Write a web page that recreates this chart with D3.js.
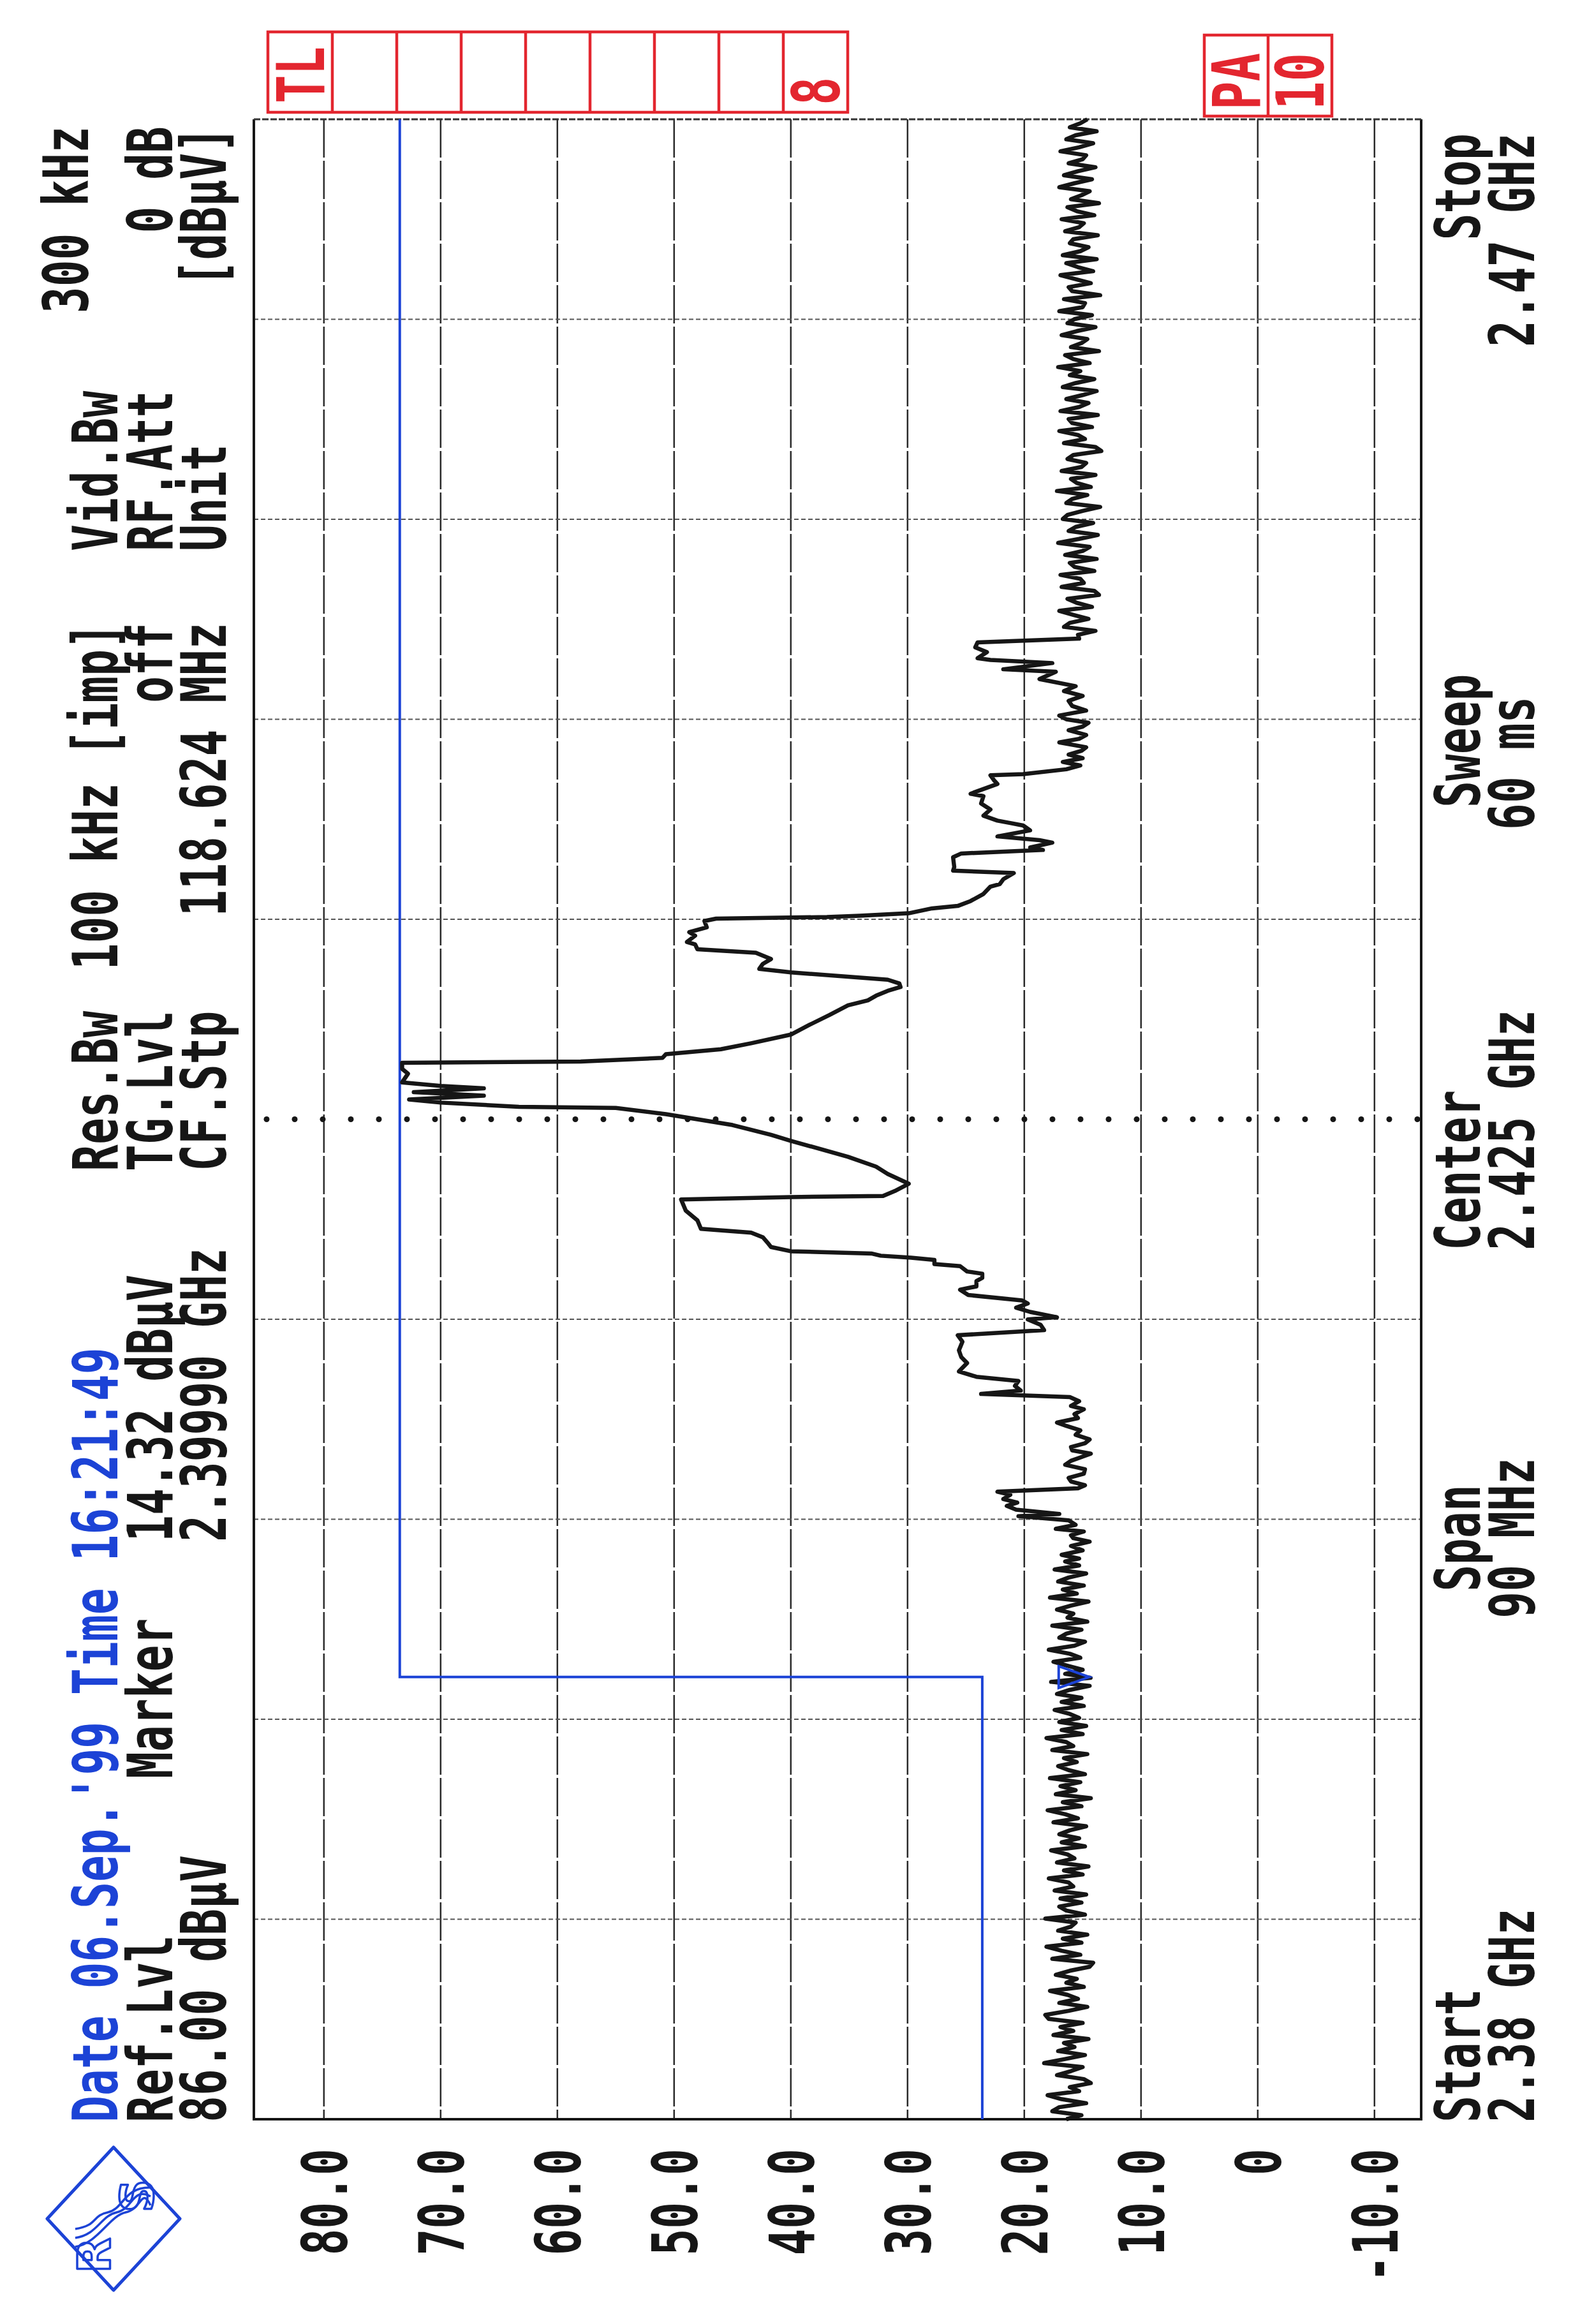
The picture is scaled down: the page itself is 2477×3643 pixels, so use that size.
<!DOCTYPE html>
<html><head><meta charset="utf-8">
<script src="https://cdn.jsdelivr.net/npm/d3@7"></script>
<style>body{margin:0;background:#fff}</style>
</head><body><svg id="c" width="2477" height="3643" xmlns="http://www.w3.org/2000/svg"></svg>
<script>
// ---------- data ----------
const START_MHZ = 2380, STOP_MHZ = 2470;
const REF_LEVEL = 86, BOTTOM_LEVEL = -14;
const levelTicks = [80,70,60,50,40,30,20,10,0,-10];
const levelTickLabels = ["80.0","70.0","60.0","50.0","40.0","30.0","20.0","10.0","0","-10.0"];
const freqGridMHz = [2389,2398,2407,2416,2434,2443,2452,2461];
const centerMHz = 2425;

// noise floor below the signal, evenly spread from 2380.0 to 2405.1 MHz
const noiseLowRange = [2380.0, 2405.1];
const noiseLowLevels = [
16.4,15.1,17.6,17.0,14.7,16.8,18.0,15.3,16.1,14.3,14.9,17.2,16.0,15.0,18.3,16.5,14.8,17.1,15.7,16.6,
14.5,17.5,15.8,16.9,15.0,17.9,18.2,16.2,14.6,17.0,15.4,16.3,17.8,14.9,16.4,15.5,17.3,16.1,14.4,14.1,
17.6,15.2,16.8,18.1,15.1,16.7,14.6,17.1,16.0,15.6,18.2,14.8,16.4,17.0,15.1,16.9,14.7,17.4,15.8,16.2,
17.9,15.0,16.6,14.5,17.2,15.7,16.3,17.7,14.8,16.8,15.3,17.0,16.1,14.7,17.5,15.4,16.5,18.0,15.1,16.7,
14.3,17.3,15.6,16.9,15.2,17.8,14.8,16.2,17.1,15.5,16.6,14.6,17.6,15.8,16.4,18.1,15.0,16.8,14.7,17.0,
15.3,16.1,17.4,14.9,16.8,15.1,17.2,16.1,14.4,17.7,14.32,16.5,15.0,16.3,17.5,15.2,16.1,17.9,15.7,14.8,
17.0,16.4,15.1,17.6,14.6,16.3,15.8,17.2,16.0,14.5,17.8,15.5,16.7,14.9,17.1,16.2,14.7,17.4,15.3,16.5];

// signal region: [frequency MHz, level dBuV]
const signalPoints = [
[2405.23,15.3],[2405.40,16.8],[2405.60,15.0],[2405.80,16.0],[2405.99,14.4],[2406.15,15.8],[2406.28,16.0],[2406.45,14.9],[2406.57,17.3],[2406.75,15.6],[2406.95,16.2],
[2407.14,20.5],[2407.24,17.0],[2407.43,20.7],[2407.60,21.5],[2407.75,20.6],[2407.91,21.8],[2408.10,21.2],[2408.24,22.3],
[2408.39,15.4],[2408.53,14.8],[2408.70,16.0],[2408.86,16.2],[2409.05,14.9],[2409.25,14.8],[2409.45,16.5],[2409.63,16.0],[2409.80,15.1],[2409.95,14.3],[2410.10,15.9],[2410.25,16.0],[2410.42,14.8],[2410.59,14.4],[2410.80,15.6],[2411.00,15.2],[2411.20,16.4],[2411.35,17.2],[2411.55,15.4],[2411.73,15.7],[2411.95,14.9],[2412.10,16.0],[2412.31,15.3],[2412.50,16.1],
[2412.64,23.7],[2412.79,20.3],[2413.00,20.8],[2413.22,20.5],[2413.41,24.1],[2413.65,25.6],[2414.03,24.9],[2414.30,25.4],[2414.60,25.6],[2414.99,25.3],[2415.28,25.7],
[2415.51,18.3],[2415.75,18.6],[2415.99,19.7],[2416.09,17.2],[2416.33,19.5],[2416.52,20.7],[2416.71,19.7],[2416.85,20.2],
[2417.09,24.8],[2417.33,25.5],[2417.48,24.1],[2417.72,24.1],[2417.86,23.6],[2418.05,23.6],[2418.15,24.9],[2418.39,25.5],[2418.48,27.7],[2418.67,27.7],[2418.77,29.7],[2418.86,32.3],[2418.96,33.1],
[2419.06,40.0],[2419.25,41.7],[2419.45,42.0],[2419.69,42.4],[2419.90,43.4],[2420.07,47.7],[2420.45,48.0],[2420.89,49.0],[2421.39,49.4],
[2421.50,40.0],[2421.55,32.1],[2421.77,31.1],[2422.10,29.9],[2422.54,31.7],[2422.87,32.7],[2423.31,35.1],[2424.03,40.0],[2424.30,41.7],[2424.74,45.0],[2425.23,50.7],[2425.51,55.0],
[2425.56,63.3],[2425.75,70.0],[2425.89,72.7],[2426.06,66.3],[2426.22,72.3],[2426.39,66.3],[2426.50,70.0],[2426.66,73.3],[2427.05,72.8],[2427.27,73.3],[2427.54,73.3],
[2427.60,58.0],[2427.76,51.0],[2427.93,50.7],[2428.15,46.0],[2428.42,43.4],[2428.81,40.0],[2429.25,38.4],[2429.69,36.7],[2430.13,35.1],[2430.35,33.4],[2430.56,32.7],[2430.78,31.7],[2430.95,30.6],[2431.11,30.7],[2431.28,31.7],
[2431.61,40.0],[2431.77,42.7],[2431.99,42.4],[2432.21,41.7],[2432.49,43.0],[2432.65,48.0],[2432.87,48.2],[2432.98,48.9],[2433.26,48.2],[2433.42,48.7],[2433.64,47.2],[2433.92,47.4],[2434.03,46.4],
[2434.10,36.9],[2434.16,34.1],[2434.27,29.9],[2434.49,27.9],[2434.60,25.7],[2434.82,24.6],[2435.14,23.5],[2435.47,22.9],[2435.58,22.1],[2435.80,21.8],[2436.08,20.9],
[2436.19,26.1],[2436.35,26.0],[2436.79,26.1],[2436.96,25.4],[2437.12,18.4],[2437.23,19.5],[2437.45,17.6],[2437.56,18.7],[2437.73,22.3],[2438.00,19.5],[2438.22,20.1],[2438.33,21.2],[2438.44,22.3],[2438.66,23.5],[2438.94,22.9],[2439.21,23.7],[2439.54,23.5],[2439.65,24.6],[2440.09,22.3],[2440.26,22.6],[2440.48,22.9],[2440.53,20.1],
[2440.75,16.4],[2440.92,15.2],[2441.08,16.7],[2441.25,15.0],[2441.41,16.2],[2441.58,15.1],[2441.74,14.7],[2441.96,17.0],[2442.12,15.3],[2442.29,14.7],[2442.51,16.2],[2442.67,15.0],[2442.84,14.5],[2443.00,16.4],[2443.17,17.0],[2443.39,14.7],[2443.60,15.9],[2443.83,16.2],[2444.05,15.0],[2444.27,16.6],[2444.49,15.6],
[2444.81,18.7],[2445.14,17.3],[2445.25,21.8],[2445.53,17.6],[2445.67,22.9],[2445.75,24.0],[2446.02,23.2],[2446.24,24.2],[2446.46,24.0],[2446.63,15.3]];

// noise floor above the signal, evenly spread from 2446.8 to 2470.0 MHz
const noiseHighRange = [2446.8, 2470.0];
const noiseHighLevels = [
15.4,13.9,16.6,16.1,14.5,15.8,17.0,14.2,15.5,16.3,13.6,14.0,16.8,14.9,15.2,16.9,14.0,15.7,16.1,13.8,
16.5,15.0,14.4,17.1,15.3,13.7,16.2,15.6,14.1,16.7,16.3,15.0,13.5,16.4,15.9,14.6,17.2,14.3,15.5,16.0,
13.9,16.8,15.1,14.7,16.3,15.8,13.4,13.9,16.6,14.8,15.4,17.0,14.2,15.9,16.2,13.7,16.9,15.3,14.5,16.4,
15.0,13.8,16.7,15.6,14.0,16.1,15.2,17.1,14.4,15.8,16.5,13.6,16.0,15.1,14.6,16.8,15.5,13.9,16.3,15.7,
14.2,17.0,15.0,14.8,16.6,13.5,15.9,16.2,14.3,15.6,16.9,14.1,15.4,16.4,13.8,16.7,15.2,14.5,16.1,15.8,
13.7,16.5,15.3,14.9,16.8,14.0,15.5,16.3,13.6,16.0,15.1,14.4,17.0,15.7,14.2,16.6,15.4,13.9,16.2,15.0,
14.7,16.9,15.3,14.1,16.4,15.6,13.8,16.1,15.2,14.6];

// limit line TL (blue)
const limitLine = [[2380,23.6],[2399.9,23.6],[2399.9,73.5],[2470,73.5]];
const marker = {freq: 2399.90, level: 14.32};

// ---------- build trace ----------
function spread(range, levels){
  const n = levels.length, step = (range[1]-range[0])/(n-1);
  return levels.map((v,i)=>[range[0]+i*step, v]);
}
const trace = [].concat(spread(noiseLowRange, noiseLowLevels), signalPoints, spread(noiseHighRange, noiseHighLevels));

// ---------- layout ----------
const PL = 398, PR = 2228, PT = 187, PB = 3322;
const x = d3.scaleLinear().domain([REF_LEVEL, BOTTOM_LEVEL]).range([PL, PR]);
const y = d3.scaleLinear().domain([START_MHZ, STOP_MHZ]).range([PB, PT]);

const svg = d3.select("#c");
svg.append("rect").attr("width",2477).attr("height",3643).attr("fill","#fff");

const BLUE = "#1c43d6", RED = "#e3262f", INK = "#161616";
const FONT = "'DejaVu Sans Mono', 'Liberation Mono', monospace";

// grid: level lines (vertical)
svg.append("g").selectAll("line").data(levelTicks).join("line")
  .attr("x1", d=>x(d)).attr("x2", d=>x(d)).attr("y1", PT).attr("y2", PB)
  .attr("stroke", "#2a2a2a").attr("stroke-width", 2.5).attr("stroke-dasharray", "60,5");
// grid: frequency lines (horizontal)
svg.append("g").selectAll("line").data(freqGridMHz).join("line")
  .attr("x1", PL).attr("x2", PR).attr("y1", d=>y(d)).attr("y2", d=>y(d))
  .attr("stroke", "#555").attr("stroke-width", 2).attr("stroke-dasharray", "7,4");
// center line (dotted)
const dots = d3.range(PL+20, PR, 44);
svg.append("g").selectAll("circle").data(dots).join("circle")
  .attr("cx", d=>d).attr("cy", y(centerMHz)).attr("r", 4.5).attr("fill", INK);

// frame
svg.append("path").attr("d", `M${PL},${PT} L${PL},${PB} L${PR},${PB} L${PR},${PT}`)
  .attr("fill","none").attr("stroke", INK).attr("stroke-width", 4);
svg.append("line").attr("x1",PL).attr("x2",PR).attr("y1",PT).attr("y2",PT)
  .attr("stroke","#333").attr("stroke-width",3).attr("stroke-dasharray","10,3");

// limit line
const line = d3.line().x(d=>x(d[1])).y(d=>y(d[0]));
svg.append("path").datum(limitLine).attr("d", line)
  .attr("fill","none").attr("stroke", BLUE).attr("stroke-width", 4);

// trace
svg.append("path").datum(trace).attr("d", line)
  .attr("fill","none").attr("stroke", INK).attr("stroke-width", 6.5)
  .attr("stroke-linejoin","round");

// marker triangle (apex pointing at the trace)
const mx = x(marker.level), my = y(marker.freq);
svg.append("path").attr("d", `M${mx-50},${my-17} L${mx-2},${my} L${mx-50},${my+17} Z`)
  .attr("fill","none").attr("stroke", BLUE).attr("stroke-width", 4);

// ---------- text helpers ----------
function vtext(str, bx, py, anchor, color, size){
  size = size || 98;
  return svg.append("text")
    .attr("transform", `translate(${bx},${py}) rotate(-90) scale(0.71,1)`)
    .attr("text-anchor", anchor).attr("font-family", FONT).attr("font-size", size)
    .attr("font-weight", "bold").attr("fill", color || INK).text(str);
}

// level tick labels
levelTicks.forEach((t,i)=>{ vtext(levelTickLabels[i], x(t)+36, 3368, "end"); });

// left header
const L1 = 184, L2 = 270, L3 = 354;
vtext("Res.Bw", L1, 1836, "start");
vtext("TG.Lvl", L2, 1836, "start");
vtext("CF.Stp", L3, 1836, "start");
vtext("100 kHz [imp]", L1, 976, "end");
vtext("off", L2, 976, "end");
vtext("118.624 MHz", L3, 976, "end");
vtext("Vid.Bw", L1, 864, "start");
vtext("RF.Att", L2, 864, "start");
vtext("Unit", L3, 864, "start");
vtext("300 kHz", 138, 198, "end");
vtext("0 dB", L2, 198, "end");
vtext("[dB\u00b5V]", L3, 198, "end");
vtext("Date 06.Sep.'99 Time 16:21:49", L1, 3327, "start", BLUE);
vtext("Ref.Lvl", L2, 3327, "start");
vtext("86.00 dB\u00b5V", L3, 3327, "start");
vtext("Marker", L2, 2788, "start");
vtext("14.32 dB\u00b5V", L2, 2417, "start");
vtext("2.39990 GHz", L3, 2417, "start");

// right footer
const R1 = 2320, R2 = 2405;
vtext("Start", R1, 3327, "start");
vtext("2.38 GHz", R2, 3327, "start");
vtext("Span", R1, 2411, "middle");
vtext("90 MHz", R2, 2411, "middle");
vtext("Center", R1, 1960, "start");
vtext("2.425 GHz", R2, 1960, "start");
vtext("Sweep", R1, 1266, "start");
vtext("60 ms", R2, 1301, "start");
vtext("Stop", R1, 209, "end");
vtext("2.47 GHz", R2, 209, "end");

// red status boxes
const tlX0 = 420, cellW = 101, boxT = 50, boxB = 176;
const tl = svg.append("g").attr("stroke", RED).attr("stroke-width", 4.5).attr("fill","none");
tl.append("rect").attr("x", tlX0).attr("y", boxT).attr("width", cellW*9).attr("height", boxB-boxT);
d3.range(1,9).forEach(k=> tl.append("line").attr("x1", tlX0+k*cellW).attr("x2", tlX0+k*cellW).attr("y1", boxT).attr("y2", boxB));
vtext("TL", tlX0+cellW/2+37, 162, "start", RED, 104);
vtext("8", tlX0+8.5*cellW+37, 165, "start", RED, 104);
const paX0 = 1888, paT = 55, paB = 182;
tl.append("rect").attr("x", paX0).attr("y", paT).attr("width", 200).attr("height", paB-paT);
tl.append("line").attr("x1", paX0+100).attr("x2", paX0+100).attr("y1", paT).attr("y2", paB);
vtext("PA", paX0+50+37, 172, "start", RED, 104);
vtext("10", paX0+150+37, 172, "start", RED, 104);

// R&S logo
const cx = 178, cy = 3478, hw = 104, hh = 112;
const lg = svg.append("g").attr("stroke", BLUE).attr("fill","none").attr("stroke-linejoin","round");
lg.append("path").attr("d", `M${cx},${cy-hh} L${cx+hw},${cy} L${cx},${cy+hh} L${cx-hw},${cy} Z`).attr("stroke-width", 5);
[-14, 0, 14].forEach(o=>{
  lg.append("path").attr("d",
    `M${cx-60},${cy+30+o} C${cx-25},${cy+25+o} ${cx-20+o},${cy-5} ${cx+5+o},${cy-10} S${cx+30+o},${cy-50} ${cx+58},${cy-35+o}`)
    .attr("stroke-width", 3.5);
});
lg.append("text").attr("transform", `translate(${cx-5},${cy+85}) rotate(-90)`)
  .attr("font-family", "'DejaVu Sans', sans-serif").attr("font-weight","bold").attr("font-size", 72)
  .attr("stroke-width", 3.5).text("R");
lg.append("text").attr("transform", `translate(${cx+62},${cy-10}) rotate(-90)`)
  .attr("font-family", "'DejaVu Sans', sans-serif").attr("font-weight","bold").attr("font-size", 72)
  .attr("stroke-width", 3.5).text("S");
</script>
</body></html>
